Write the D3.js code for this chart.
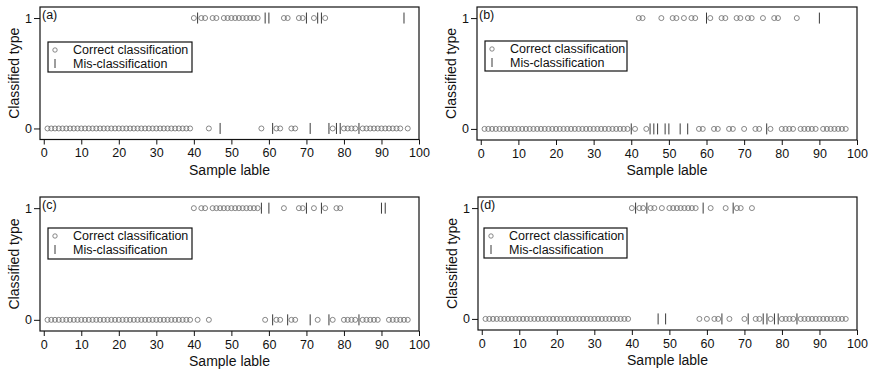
<!DOCTYPE html>
<html><head><meta charset="utf-8">
<script src="https://cdn.jsdelivr.net/npm/d3@7"></script>
<style>body{margin:0;background:#fff} text{font-family:"Liberation Sans",Arial,sans-serif;fill:#111}</style>
</head><body><svg id="c" width="869" height="371"></svg>
<script>
// ---- data ----
const samples = [1,2,3,4,5,6,7,8,9,10,11,12,13,14,15,16,17,18,19,20,21,22,23,24,25,26,27,28,29,30,
  31,32,33,34,35,36,37,38,39,40,41,42,43,44,45,46,47,48,49,50,51,52,53,54,55,56,57,58,59,60,
  61,62,63,64,65,66,67,68,69,70,71,72,73,74,75,76,77,78,79,80,81,82,83,84,85,86,87,88,89,90,
  91,92,93,94,95,96,97];
// samples whose true type is 1
const typeOne = [40,42,43,45,46,47,48,49,50,51,52,53,54,55,56,57,61,64,65,68,69,71,72,75,76,78,79,84];
// mis-classified samples in each panel
const misA = [41,47,59,60,61,70,71,73,74,76,78,79,84,96];
const misB = [40,45,46,47,49,50,53,55,60,76,90];
const misC = [58,60,61,65,70,71,74,76,84,90,91];
const misD = [41,44,47,49,59,64,67,71,75,76,78,79,84];
const panelLabels = ["(a)","(b)","(c)","(d)"];
const xTicks = [0,10,20,30,40,50,60,70,80,90,100];
const yTicks = [0,1];
const legendLabels = ["Correct classification","Mis-classification"];

// ---- layout ----
const layout = [
  {x0:40, x1:419, y0:7, y1:139.5, lg:{x:48,y:42,w:144,h:30}},
  {x0:477,x1:857, y0:7, y1:140, lg:{x:485,y:41,w:142,h:30}},
  {x0:40, x1:419, y0:197,y1:331, lg:{x:48,y:228,w:144,h:31}},
  {x0:478,x1:857, y0:197,y1:330, lg:{x:484,y:228,w:143,h:30}}
];
const misLists = [misA, misB, misC, misD];
const svg = d3.select("#c");
const circleStroke = "#6a6a6a", barStroke = "#3a3a3a";
const FONT = "Liberation Sans, Arial, sans-serif";

layout.forEach((L, i) => {
  const mis = misLists[i];
  const data = samples.map(s => {
    const t = typeOne.includes(s) ? 1 : 0;
    const m = mis.includes(s);
    return {s, pred: m ? 1 - t : t, mis: m};
  });
  const x = d3.scaleLinear().domain([-1, 100]).range([L.x0, L.x1]);
  const y = d3.scaleLinear().domain([-0.1, 1.1]).range([L.y1, L.y0]);
  const g = svg.append("g");

  // x axis
  const xa = g.append("g").attr("transform", `translate(0,${L.y1})`)
    .call(d3.axisBottom(x).tickValues(xTicks).tickSize(5).tickPadding(4).tickFormat(d3.format("d")));
  xa.select(".domain").remove();
  xa.selectAll("line").attr("stroke", "#111");
  xa.selectAll("text").attr("font-size", 12.5).attr("font-family", FONT).attr("fill","#111");
  // y axis
  const ya = g.append("g").attr("transform", `translate(${L.x0},0)`)
    .call(d3.axisLeft(y).tickValues(yTicks).tickSize(6).tickPadding(2).tickFormat(d3.format("d")));
  ya.select(".domain").remove();
  ya.selectAll("line").attr("stroke", "#111");
  ya.selectAll("text").attr("font-size", 12.5).attr("font-family", FONT).attr("fill","#111");

  // frame
  g.append("rect").attr("x", L.x0).attr("y", L.y0).attr("width", L.x1 - L.x0).attr("height", L.y1 - L.y0)
    .attr("fill", "none").attr("stroke", "#111").attr("stroke-width", 1.2);

  // marks
  g.selectAll("circle.pt").data(data.filter(d => !d.mis)).join("circle").attr("class","pt")
    .attr("cx", d => x(d.s)).attr("cy", d => y(d.pred)).attr("r", 2.5)
    .attr("fill", "none").attr("stroke", circleStroke).attr("stroke-width", 0.8);
  g.selectAll("line.bar").data(data.filter(d => d.mis)).join("line").attr("class","bar")
    .attr("x1", d => x(d.s)).attr("x2", d => x(d.s))
    .attr("y1", d => y(d.pred) - 5.5).attr("y2", d => y(d.pred) + 5.5)
    .attr("stroke", barStroke).attr("stroke-width", 1);

  // panel label
  g.append("text").attr("x", L.x0 + 2).attr("y", L.y0 + 12).attr("font-size", 12.5).text(panelLabels[i]);

  // axis titles
  g.append("text").attr("x", (L.x0 + L.x1) / 2).attr("y", L.y1 + 35).attr("text-anchor", "middle")
    .attr("font-size", 14).text("Sample lable");
  g.append("text").attr("transform", `translate(${L.x0 - 21},${(L.y0 + L.y1) / 2}) rotate(-90)`)
    .attr("text-anchor", "middle").attr("font-size", 14).text("Classified type");

  // legend
  const lg = L.lg;
  g.append("rect").attr("x", lg.x).attr("y", lg.y).attr("width", lg.w).attr("height", lg.h)
    .attr("fill", "#fff").attr("stroke", "#111").attr("stroke-width", 1.2);
  g.append("circle").attr("cx", lg.x + 7).attr("cy", lg.y + 8).attr("r", 2.2)
    .attr("fill", "none").attr("stroke", circleStroke).attr("stroke-width", 0.8);
  g.append("line").attr("x1", lg.x + 7).attr("x2", lg.x + 7).attr("y1", lg.y + 17).attr("y2", lg.y + 26)
    .attr("stroke", barStroke).attr("stroke-width", 1);
  legendLabels.forEach((t, k) => {
    g.append("text").attr("x", lg.x + 25).attr("y", lg.y + 12 + k * 14).attr("font-size", 12.5).text(t);
  });
});
</script></body></html>
